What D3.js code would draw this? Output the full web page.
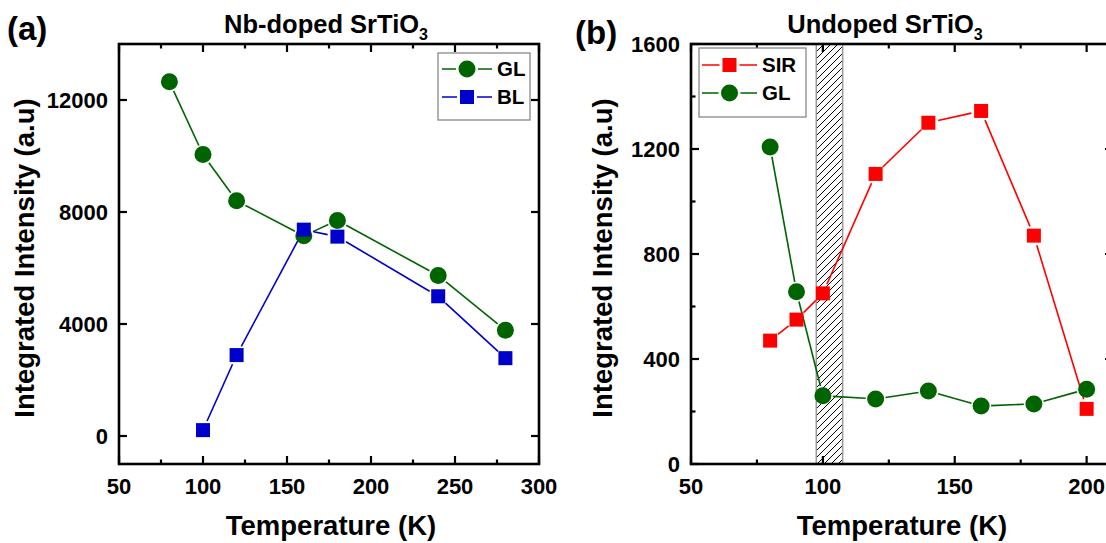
<!DOCTYPE html>
<html><head><meta charset="utf-8">
<script src="https://cdn.jsdelivr.net/npm/d3@7"></script>
<style>
body{margin:0;background:#fff;}
text{font-family:"Liberation Sans",Arial,sans-serif;font-weight:bold;fill:#000;}
</style></head>
<body><svg id="c" width="1106" height="543"></svg>
<script>
// Panel (a): Nb-doped SrTiO3
const tempA = [80, 100, 120, 160, 180, 240, 280];
const glA   = [12650, 10050, 8400, 7150, 7700, 5730, 3780];
const tempBL = [100, 120, 160, 180, 240, 280];
const blA    = [210, 2890, 7370, 7120, 4990, 2780];
const xTicksA = [50, 100, 150, 200, 250, 300];
const yTicksA = [0, 4000, 8000, 12000];

// Panel (b): Undoped SrTiO3
const tempB = [80, 90, 100, 120, 140, 160, 180, 200];
const sirB  = [470, 550, 650, 1105, 1300, 1345, 870, 210];
const glB   = [1208, 656, 260, 248, 278, 221, 229, 285];
const xTicksB = [50, 100, 150, 200];
const yTicksB = [0, 400, 800, 1200, 1600];
const hatchB = [97.5, 107.5];

const GREEN = "#006400", BLUE = "#0000cc", RED = "#ff0000";
const svg = d3.select("#c");

const defs = svg.append("defs");
const pat = defs.append("pattern").attr("id","hatch").attr("patternUnits","userSpaceOnUse")
  .attr("width",7).attr("height",7);
pat.append("path").attr("d","M-1,8 L8,-1 M-1,1 L1,-1 M6,8 L8,6").attr("stroke","#000").attr("stroke-width",1);

function trimmedSegments(g, xs, ys, x, y, color, gap){
  for(let i=0;i<xs.length-1;i++){
    const x1=x(xs[i]), y1=y(ys[i]), x2=x(xs[i+1]), y2=y(ys[i+1]);
    const dx=x2-x1, dy=y2-y1, L=Math.hypot(dx,dy);
    if(L<2*gap) continue;
    const ux=dx/L, uy=dy/L;
    g.append("line").attr("x1",x1+ux*gap).attr("y1",y1+uy*gap)
      .attr("x2",x2-ux*gap).attr("y2",y2-uy*gap)
      .attr("stroke",color).attr("stroke-width",1.6);
  }
}
function circles(g, xs, ys, x, y, color){
  g.selectAll(null).data(xs).enter().append("circle")
   .attr("cx",(d)=>x(d)).attr("cy",(d,i)=>y(ys[i])).attr("r",8.5).attr("fill",color);
}
function squares(g, xs, ys, x, y, color){
  const s=14;
  g.selectAll(null).data(xs).enter().append("rect")
   .attr("x",(d)=>x(d)-s/2).attr("y",(d,i)=>y(ys[i])-s/2).attr("width",s).attr("height",s).attr("fill",color);
}

function frame(g, x, y, xTicks, xMinor, yTicks, yMinor){
  const [x0,x1]=x.range(), [y0,y1]=y.range();
  const L=8, l=4.5;
  const tick=(a,b,c,d)=>g.append("line").attr("x1",a).attr("y1",b).attr("x2",c).attr("y2",d).attr("stroke","#000").attr("stroke-width",2.2);
  xTicks.forEach(t=>{ tick(x(t),y0,x(t),y0-L); tick(x(t),y1,x(t),y1+L); });
  xMinor.forEach(t=>{ tick(x(t),y0,x(t),y0-l); tick(x(t),y1,x(t),y1+l); });
  yTicks.forEach(t=>{ tick(x0,y(t),x0+L,y(t)); tick(x1,y(t),x1-L,y(t)); });
  yMinor.forEach(t=>{ tick(x0,y(t),x0+l,y(t)); tick(x1,y(t),x1-l,y(t)); });
  g.append("rect").attr("x",x0).attr("y",y1).attr("width",x1-x0).attr("height",y0-y1)
   .attr("fill","none").attr("stroke","#000").attr("stroke-width",2.6);
  xTicks.forEach(t=>{
    g.append("text").attr("x",x(t)).attr("y",y0+29.5).attr("text-anchor","middle").attr("font-size",22).text(t);
  });
  yTicks.forEach(t=>{
    g.append("text").attr("x",x0-11).attr("y",y(t)+8).attr("text-anchor","end").attr("font-size",22).text(t);
  });
}

function titles(g, letter, lx, ly, title, tx, ylabX, xlabX){
  g.append("text").attr("x",lx).attr("y",ly).attr("font-size",33).text(letter);
  const t=g.append("text").attr("x",tx).attr("y",33).attr("text-anchor","middle").attr("font-size",25.5);
  t.append("tspan").text(title);
  t.append("tspan").attr("font-size",16).attr("dy",7).text("3");
  g.append("text").attr("transform",`translate(${ylabX},258) rotate(-90)`).attr("text-anchor","middle").attr("font-size",27.5).text("Integrated Intensity (a.u)");
  g.append("text").attr("x",xlabX).attr("y",535).attr("text-anchor","middle").attr("font-size",27.5).text("Temperature (K)");
}

function legend(g, bx, by, bw, bh, rows, lx0, lx1, tx){
  g.append("rect").attr("x",bx).attr("y",by).attr("width",bw).attr("height",bh)
    .attr("fill","#fff").attr("stroke","#888").attr("stroke-width",1.3);
  rows.forEach(r=>{
    g.append("line").attr("x1",lx0).attr("x2",lx1).attr("y1",r.y).attr("y2",r.y).attr("stroke",r.color).attr("stroke-width",1.6);
    const mx=(lx0+lx1)/2;
    if(r.shape==="circle"){
      g.append("rect").attr("x",mx-11).attr("y",r.y-2).attr("width",22).attr("height",4).attr("fill","#fff");
      g.append("circle").attr("cx",mx).attr("cy",r.y).attr("r",8.5).attr("fill",r.color);
    } else {
      g.append("rect").attr("x",mx-10).attr("y",r.y-2).attr("width",20).attr("height",4).attr("fill","#fff");
      g.append("rect").attr("x",mx-7).attr("y",r.y-7).attr("width",14).attr("height",14).attr("fill",r.color);
    }
    g.append("text").attr("x",tx).attr("y",r.y+7).attr("font-size",20.5).text(r.label);
  });
}

// ----- Panel a -----
const gA = svg.append("g");
const xA = d3.scaleLinear().domain([50,300]).range([119,539]);
const yA = d3.scaleLinear().domain([-1000,14000]).range([464,44]);
trimmedSegments(gA, tempA, glA, xA, yA, GREEN, 10);
trimmedSegments(gA, tempBL, blA, xA, yA, BLUE, 10);
circles(gA, tempA, glA, xA, yA, GREEN);
squares(gA, tempBL, blA, xA, yA, BLUE);
frame(gA, xA, yA, xTicksA, d3.range(75,300,50), yTicksA, []);
legend(gA, 438, 53, 92, 67, [
  {label:"GL", color:GREEN, shape:"circle", y:69},
  {label:"BL", color:BLUE, shape:"square", y:97}], 442, 492, 497);
titles(gA, "(a)", 7, 40, "Nb-doped SrTiO", 326, 34, 331);

// ----- Panel b -----
const gB = svg.append("g");
const xB = d3.scaleLinear().domain([50,210]).range([691,1113]);
const yB = d3.scaleLinear().domain([0,1600]).range([464,44]);
gB.append("rect").attr("x",xB(hatchB[0])).attr("y",yB(1600)).attr("width",xB(hatchB[1])-xB(hatchB[0]))
  .attr("height",yB(0)-yB(1600)).attr("fill","url(#hatch)").attr("stroke","#999").attr("stroke-width",1.5);
trimmedSegments(gB, tempB, glB, xB, yB, GREEN, 10);
trimmedSegments(gB, tempB, sirB, xB, yB, RED, 10);
circles(gB, tempB, glB, xB, yB, GREEN);
squares(gB, tempB, sirB, xB, yB, RED);
frame(gB, xB, yB, xTicksB, [75,125,175], yTicksB, [200,600,1000,1400]);
legend(gB, 699, 48, 107, 69, [
  {label:"SIR", color:RED, shape:"square", y:65},
  {label:"GL", color:GREEN, shape:"circle", y:93}], 702, 757, 762);
titles(gB, "(b)", 575, 44, "Undoped SrTiO", 885, 612, 902);
</script></body></html>
